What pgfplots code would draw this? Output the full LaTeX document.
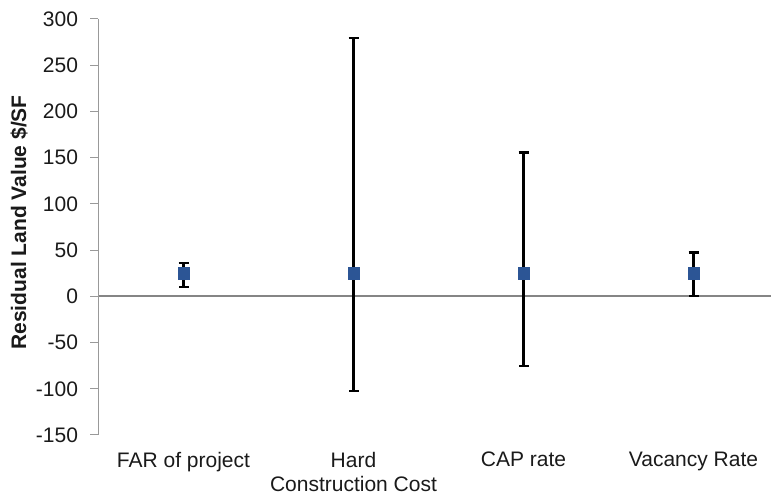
\documentclass[border=0pt]{standalone}
\usepackage{pgfplots}
\pgfplotsset{compat=1.18}
\usepackage{pgfplotstable}
\usepackage{fontspec}
\setmainfont{Liberation Sans}
\definecolor{markblue}{HTML}{2C5595}
\definecolor{axgray}{HTML}{999999}
\definecolor{zerogray}{HTML}{858585}
\definecolor{txt}{HTML}{1A1A1A}
\pgfplotstableread{
x y ep em
1 25 11 14.5
2 25 254.5 127.5
3 25 130.5 100
4 25 22.5 24.5
}\data
\begin{document}
\begin{tikzpicture}
\useasboundingbox (0,0) rectangle (771pt,495pt);
\clip (0,0) rectangle (771pt,495pt);
\begin{axis}[
 at={(98.5pt,60pt)}, anchor=south west,
 scale only axis, width=680pt, height=416pt,
 xmin=0.5, xmax=4.5, ymin=-150, ymax=300,
 axis x line*=middle, axis y line*=left,
 ytick={-150,-100,...,300},
 xtick=\empty,
 minor xtick={1.5,2.5,3.5},
 extra x ticks={1,2,3,4},
 extra x tick labels={FAR of project,{Hard\\Construction Cost},CAP rate,Vacancy Rate},
 extra x tick style={major tick length=0pt, tick style={draw=none}},
 minor tick length=5pt, major tick length=8pt,
 tick align=outside,
 tick style={axgray, line width=1pt},
 minor tick style={axgray, line width=1pt},
 y axis line style={axgray, line width=1.1pt},
 x axis line style={zerogray, line width=1.7pt},
 tick label style={font=\fontsize{21}{24}\selectfont, text=txt},
 xticklabel style={align=center, yshift=-152pt},
 yticklabel style={xshift=-9pt},
 /pgf/number format/assume math mode=true,
 ylabel={Residual Land Value \$/SF},
 ylabel style={font=\bfseries\fontsize{21}{25}\selectfont, text=txt, at={(axis description cs:-0.1066,0.511)}, anchor=base},
]
\addplot[only marks, line width=2.2pt, black, mark=square*, mark size=5.6pt,
  mark options={fill=markblue, draw=markblue, line width=0.4pt},
  error bars/.cd, y dir=both, y explicit,
  error bar style={black, line width=2.2pt},
  error mark options={rotate=90, black, line width=2.2pt, mark size=5pt}]
  table[x=x, y=y, y error plus=ep, y error minus=em]{\data};
\end{axis}
\end{tikzpicture}
\end{document}
